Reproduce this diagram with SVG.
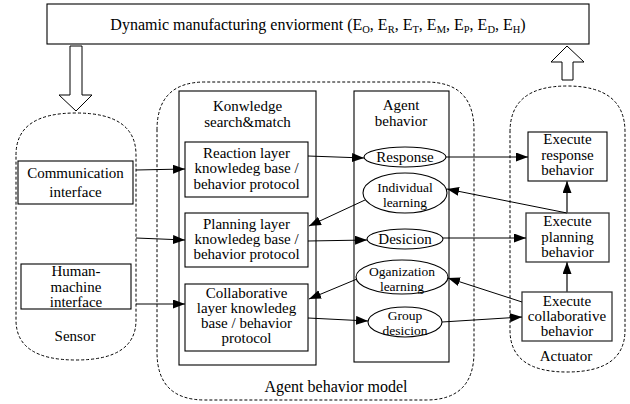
<svg xmlns="http://www.w3.org/2000/svg" width="630" height="404" viewBox="0 0 630 404">
  <style>
    text { font-family: "Liberation Serif", "Times New Roman", serif; font-size: 15px; fill: #000; text-anchor: middle; }
    .tight { font-size: 13.5px; }
    .box { fill: #fff; stroke: #000; stroke-width: 1.1; }
    .gbox { fill: #fff; stroke: #333; stroke-width: 1.3; }
    .zone { fill: none; stroke: #000; stroke-width: 1; stroke-dasharray: 3 2; }
    .ell { fill: #fff; stroke: #000; stroke-width: 1.1; }
    .edge { fill: none; stroke: #000; stroke-width: 1; marker-end: url(#arr); }
    .gedge { fill: none; stroke: #444; stroke-width: 1.6; marker-end: url(#arr); }
    .big { fill: #fff; stroke: #000; stroke-width: 1; }
    .sub { font-size: 10.5px; }
  </style>
  <defs>
    <marker id="arr" markerUnits="userSpaceOnUse" markerWidth="12" markerHeight="10" refX="12" refY="4.5" orient="auto">
      <path d="M0,0 L12,4.5 L0,9 z" fill="#000"/>
    </marker>
  </defs>

  <!-- environment banner -->
  <g id="environment">
    <rect class="box" x="47" y="4" width="542" height="40"/>
    <text x="318" y="30" style="font-size:16px">Dynamic manufacturing enviorment (E<tspan class="sub" dy="3">O</tspan><tspan dy="-3">, E</tspan><tspan class="sub" dy="3">R</tspan><tspan dy="-3">, E</tspan><tspan class="sub" dy="3">T</tspan><tspan dy="-3">, E</tspan><tspan class="sub" dy="3">M</tspan><tspan dy="-3">, E</tspan><tspan class="sub" dy="3">P</tspan><tspan dy="-3">, E</tspan><tspan class="sub" dy="3">D</tspan><tspan dy="-3">, E</tspan><tspan class="sub" dy="3">H</tspan><tspan dy="-3">)</tspan></text>
  </g>

  <!-- hollow block arrows to/from environment -->
  <g id="env-in">
    <path class="big" d="M70,46 L82,46 L82,95 L92,95 L76,111 L59,95 L70,95 z"/>
  </g>
  <g id="env-out">
    <path class="big" d="M562,80 L573,80 L573,62 L584,62 L567,46 L551,62 L562,62 z"/>
  </g>

  <!-- sensor zone -->
  <g id="sensor">
    <path class="zone" d="M16,155 Q16,113 76,113 Q136,113 136,155 L136,320 Q136,360 76,360 Q16,360 16,320 z"/>
    <text x="75" y="341">Sensor</text>
  </g>
  <g id="communication-interface">
    <rect class="box" x="18" y="161" width="115" height="43"/>
    <text x="75.5" y="178">Communication</text>
    <text x="75.5" y="197">interface</text>
  </g>
  <g id="human-machine-interface">
    <rect class="box" x="21" y="264" width="110" height="45"/>
    <text x="76" y="276">Human-</text>
    <text x="76" y="292">machine</text>
    <text x="76" y="307">interface</text>
  </g>

  <!-- agent behavior model zone -->
  <g id="agent-model">
    <path class="zone" d="M157,130 Q157,82 205,82 L426,82 Q474,82 474,130 L474,352 Q474,400 426,400 L205,400 Q157,400 157,352 z"/>
    <text x="336" y="392" style="font-size:16px">Agent behavior model</text>
  </g>
  <g id="knowledge-search">
    <rect class="box" x="179" y="91" width="137" height="274"/>
    <text x="247.5" y="111">Konwledge</text>
    <text x="247.5" y="127">search&amp;match</text>
  </g>
  <g id="reaction-layer">
    <rect class="box" x="185" y="142" width="123" height="55"/>
    <text x="246.5" y="158">Reaction layer</text>
    <text x="246.5" y="173">knowledeg base /</text>
    <text x="246.5" y="189">behavior protocol</text>
  </g>
  <g id="planning-layer">
    <rect class="box" x="185" y="213" width="123" height="54"/>
    <text x="246.5" y="229">Planning layer</text>
    <text x="246.5" y="244">knowledeg base /</text>
    <text x="246.5" y="259">behavior protocol</text>
  </g>
  <g id="collaborative-layer">
    <rect class="box" x="185" y="284" width="123" height="67"/>
    <text x="246.5" y="298">Collaborative</text>
    <text x="246.5" y="313">layer knowledeg</text>
    <text x="246.5" y="328">base / behavior</text>
    <text x="246.5" y="343">protocol</text>
  </g>
  <g id="agent-behavior">
    <rect class="box" x="354" y="91" width="95" height="271"/>
    <text x="401" y="110">Agent</text>
    <text x="401" y="126">behavior</text>
  </g>
  <g id="response">
    <ellipse class="ell" cx="405" cy="157" rx="41" ry="10"/>
    <text x="405" y="162">Response</text>
  </g>
  <g id="individual-learning">
    <ellipse class="ell" cx="405" cy="193" rx="42" ry="20"/>
    <text class="tight" x="405" y="192">Individual</text>
    <text class="tight" x="405" y="207">learning</text>
  </g>
  <g id="desicion">
    <ellipse class="ell" cx="405" cy="239" rx="38" ry="10"/>
    <text x="405" y="244">Desicion</text>
  </g>
  <g id="organization-learning">
    <ellipse class="ell" cx="402" cy="277" rx="46" ry="17"/>
    <text class="tight" x="402" y="276">Oganization</text>
    <text class="tight" x="402" y="291">learning</text>
  </g>
  <g id="group-desicion">
    <ellipse class="ell" cx="405" cy="322" rx="37" ry="15"/>
    <text class="tight" x="405" y="320">Group</text>
    <text class="tight" x="405" y="335">desicion</text>
  </g>

  <!-- actuator zone -->
  <g id="actuator">
    <path class="zone" d="M510,132 Q510,86 567,86 Q625,86 625,132 L625,330 Q625,372 567,372 Q510,372 510,330 z"/>
    <text x="566" y="361">Actuator</text>
  </g>
  <g id="execute-response">
    <rect class="box" x="528" y="132" width="79" height="49"/>
    <text x="567.5" y="144">Execute</text>
    <text x="567.5" y="160">response</text>
    <text x="567.5" y="175">behavior</text>
  </g>
  <g id="execute-planning">
    <rect class="gbox" x="526" y="213" width="83" height="49"/>
    <text x="567.5" y="226">Execute</text>
    <text x="567.5" y="242">planning</text>
    <text x="567.5" y="257">behavior</text>
  </g>
  <g id="execute-collaborative">
    <rect class="gbox" x="522" y="292" width="90" height="49"/>
    <text x="567" y="306">Execute</text>
    <text x="567" y="321">collaborative</text>
    <text x="567" y="336">behavior</text>
  </g>

  <!-- connectors -->
  <g id="connectors">
    <path class="edge" d="M136,170 L185,169"/>
    <path class="edge" d="M136,238 L185,240"/>
    <path class="edge" d="M136,304 L185,304"/>
    <path class="edge" d="M308,156 L364,158"/>
    <path class="edge" d="M308,241 L367,240"/>
    <path class="edge" d="M308,318 L368,321"/>
    <path class="edge" d="M365,200 L309,226"/>
    <path class="edge" d="M357,279 L309,299"/>
    <path class="edge" d="M446,157 L528,157"/>
    <path class="edge" d="M443,238 L526,238"/>
    <path class="edge" d="M442,322 L522,317"/>
    <path class="edge" d="M567,213 L447,189"/>
    <path class="edge" d="M522,302 L448,278"/>
    <path class="gedge" d="M567,213 L567,181"/>
    <path class="gedge" d="M567,292 L567,262"/>
  </g>
</svg>
